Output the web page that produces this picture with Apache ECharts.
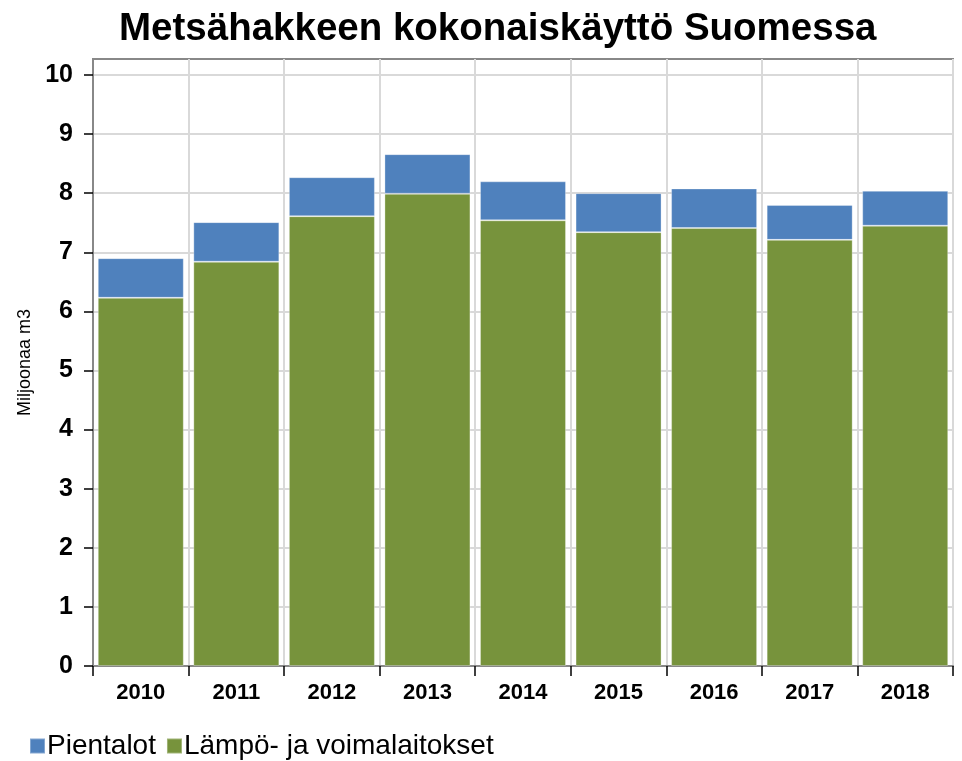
<html>
  <head>
    <meta charset="utf-8">
    <script src="https://cdn.jsdelivr.net/npm/echarts@6/dist/echarts.min.js"></script>
    <style>
      body { margin: 0; background: #fff; }
    </style>
  </head>
  <body>
    <div id="main" style="width:962px;height:761px;"></div>
    <script>
      var years = ['2010', '2011', '2012', '2013', '2014', '2015', '2016', '2017', '2018'];
      var laitokset = [6.23, 6.84, 7.61, 7.99, 7.54, 7.34, 7.41, 7.21, 7.45];
      var pientalot = [0.67, 0.67, 0.66, 0.67, 0.66, 0.66, 0.67, 0.59, 0.59];
      var yTicks = [0, 1, 2, 3, 4, 5, 6, 7, 8, 9, 10];

      var myChart = echarts.init(document.getElementById('main'));
      var font = 'Liberation Sans, Arial, sans-serif';
      var option = {
          animation: false,
          textStyle: { fontFamily: font },
          title: {
              text: 'Metsähakkeen kokonaiskäyttö Suomessa',
              left: 114,
              top: 5,
              textStyle: { fontSize: 38.5, fontWeight: 'bold', color: '#000', fontFamily: font }
          },
          legend: {
              data: ['Pientalot', 'Lämpö- ja voimalaitokset'],
              left: 24,
              bottom: -4,
              itemWidth: 15,
              itemHeight: 15,
              itemGap: 10,
              icon: 'rect',
              textStyle: { fontSize: 28, color: '#000', padding: [0, 0, 0, -3] }
          },
          grid: {
              left: 93, right: 9, top: 59, bottom: 95,
              show: true, borderColor: '#888', borderWidth: 2
          },
          xAxis: {
              type: 'category',
              data: years,
              axisLine: { lineStyle: { color: '#888', width: 2 } },
              axisTick: { show: true, length: 10, lineStyle: { color: '#000', width: 1.5 } },
              axisLabel: { fontSize: 22, fontWeight: 'bold', color: '#000', margin: 16 },
              splitLine: { show: true, lineStyle: { color: '#d9d9d9', width: 2 } }
          },
          yAxis: {
              type: 'value',
              min: 0,
              max: 10.27,
              interval: 1,
              name: 'Miljoonaa m3',
              nameLocation: 'middle',
              nameGap: 56,
              nameTextStyle: { fontSize: 18, color: '#000' },
              axisLine: { show: true, lineStyle: { color: '#888', width: 2 } },
              axisTick: { show: true, length: 9, lineStyle: { color: '#000', width: 1.5 },
                  customValues: yTicks },
              axisLabel: {
                  fontSize: 25, fontWeight: 'bold', color: '#000', margin: 20,
                  customValues: yTicks
              },
              splitLine: { show: true, lineStyle: { color: '#d9d9d9', width: 2 } }
          },
          series: [{
              name: 'Lämpö- ja voimalaitokset',
              type: 'bar',
              stack: 'kaikki',
              barCategoryGap: '10%',
              data: laitokset,
              itemStyle: { color: '#77933c', borderColor: 'rgba(255,255,255,0.3)', borderWidth: 1 }
          }, {
              name: 'Pientalot',
              type: 'bar',
              stack: 'kaikki',
              barCategoryGap: '10%',
              data: pientalot,
              itemStyle: { color: '#4f81bd', borderColor: 'rgba(255,255,255,0.3)', borderWidth: 1 }
          }]
      };
      myChart.setOption(option);
    </script>
  </body>
</html>
